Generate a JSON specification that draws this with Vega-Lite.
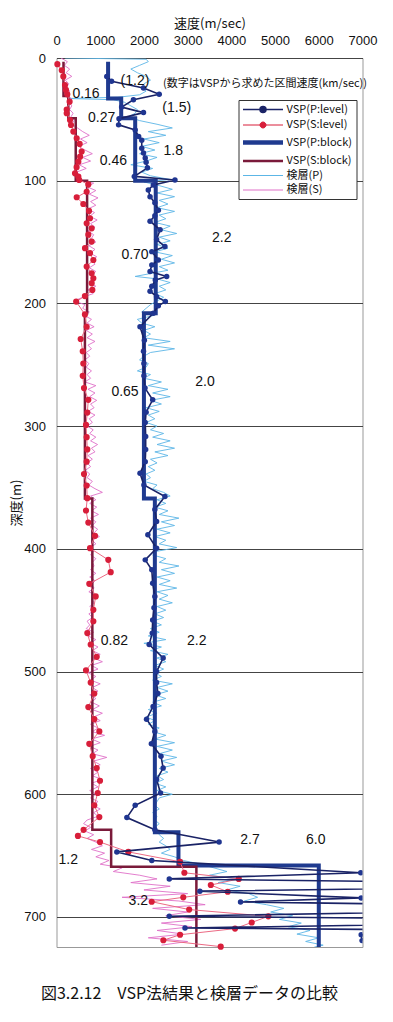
{
"$schema":"https://vega.github.io/schema/vega-lite/v6.json",
"width":306,"height":889,
"autosize":"none",
"padding":{"left":56.5,"top":58,"right":30.5,"bottom":75},
"background":"white",
"config":{"view":{"stroke":"#999","strokeWidth":1},"text":{"font":"Liberation Sans"}},
"title":{"text":"図3.2.12　VSP法結果と検層データの比較","orient":"bottom","anchor":"middle","dx":-20,"offset":31,"font":"Noto Sans CJK JP","fontSize":16,"fontWeight":"normal","color":"#111"},
"datasets":{
"pblock":[{"d":3,"v":1180},{"d":33,"v":1180},{"d":33,"v":1480},{"d":49,"v":1480},{"d":49,"v":1800},{"d":100,"v":1800},{"d":100,"v":2270},{"d":208,"v":2270},{"d":208,"v":2000},{"d":359,"v":2000},{"d":359,"v":2250},{"d":631,"v":2250},{"d":631,"v":2790},{"d":658,"v":2790},{"d":658,"v":6000},{"d":724.5,"v":6000}],
"sblock":[{"d":3,"v":160},{"d":31,"v":160},{"d":31,"v":270},{"d":49,"v":270},{"d":49,"v":440},{"d":100,"v":440},{"d":100,"v":700},{"d":208,"v":700},{"d":208,"v":650},{"d":359,"v":650},{"d":359,"v":820},{"d":629,"v":820},{"d":629,"v":1250},{"d":659,"v":1250},{"d":659,"v":3200},{"d":724.5,"v":3200}],
"plevel":[{"d":15,"v":1150},{"d":19,"v":1260},{"d":24.5,"v":1990},{"d":29.5,"v":2350},{"d":34,"v":1760},{"d":40,"v":1490},{"d":44.5,"v":1990},{"d":49.5,"v":1430},{"d":54.5,"v":1420},{"d":58.7,"v":1800},{"d":64,"v":1880},{"d":67,"v":1950},{"d":73.5,"v":1950},{"d":77.5,"v":1990},{"d":81.5,"v":2030},{"d":85,"v":2050},{"d":89.5,"v":2080},{"d":96.5,"v":1780},{"d":99.4,"v":2710},{"d":103.5,"v":2215},{"d":107.5,"v":2100},{"d":113,"v":2140},{"d":118,"v":2250},{"d":124,"v":2330},{"d":128.5,"v":2250},{"d":133,"v":2140},{"d":140,"v":2370},{"d":148,"v":2290},{"d":153.7,"v":2480},{"d":157.8,"v":2180},{"d":164.6,"v":2330},{"d":168.6,"v":2180},{"d":174,"v":2140},{"d":178,"v":2520},{"d":181,"v":2260},{"d":186,"v":2180},{"d":190,"v":2140},{"d":194.5,"v":2290},{"d":198.5,"v":2490},{"d":202,"v":2330},{"d":208,"v":2215},{"d":219,"v":1910},{"d":230,"v":2010},{"d":239,"v":1990},{"d":249,"v":2000},{"d":259,"v":2000},{"d":269,"v":2025},{"d":278.6,"v":2200},{"d":288.6,"v":2050},{"d":297,"v":2030},{"d":308.5,"v":2040},{"d":319,"v":2040},{"d":329,"v":2030},{"d":338.4,"v":1910},{"d":348,"v":2000},{"d":357.4,"v":2480},{"d":368,"v":2250},{"d":377.7,"v":2290},{"d":388.6,"v":2090},{"d":399.5,"v":2290},{"d":409,"v":2030},{"d":417,"v":2180},{"d":428,"v":2200},{"d":438.8,"v":2250},{"d":448,"v":2230},{"d":458,"v":2200},{"d":468.7,"v":2190},{"d":478,"v":2120},{"d":489,"v":2440},{"d":500,"v":2290},{"d":509,"v":2290},{"d":518,"v":2320},{"d":528.5,"v":2210},{"d":538.8,"v":2060},{"d":548.8,"v":2250},{"d":558.9,"v":2170},{"d":569,"v":2390},{"d":578.7,"v":2440},{"d":588,"v":2290},{"d":599,"v":2380},{"d":609,"v":1800},{"d":619,"v":1610},{"d":629,"v":2250},{"d":639,"v":3720},{"d":647,"v":1380},{"d":654,"v":2180},{"d":664,"v":6960},{"d":669,"v":2580},{"d":674,"v":14000},{"d":679,"v":3280},{"d":684.5,"v":6970},{"d":687.8,"v":4210},{"d":692.4,"v":14000},{"d":699.5,"v":2580},{"d":703,"v":14000},{"d":709,"v":2940},{"d":712,"v":14000},{"d":714.6,"v":6970},{"d":719.3,"v":6990}],
"slevel":[{"d":5,"v":20},{"d":10,"v":120},{"d":15,"v":156},{"d":22,"v":194},{"d":26,"v":217},{"d":29.6,"v":247},{"d":35.6,"v":300},{"d":42,"v":233},{"d":45,"v":233},{"d":50.5,"v":309},{"d":54.6,"v":332},{"d":60,"v":385},{"d":65.4,"v":462},{"d":70,"v":530},{"d":76.3,"v":576},{"d":80.4,"v":540},{"d":84.5,"v":500},{"d":89,"v":460},{"d":94,"v":423},{"d":96.7,"v":500},{"d":99.4,"v":520},{"d":103,"v":728},{"d":109,"v":690},{"d":113.5,"v":462},{"d":119,"v":613},{"d":124.6,"v":744},{"d":130.6,"v":767},{"d":134.7,"v":690},{"d":138.8,"v":805},{"d":144,"v":728},{"d":149.6,"v":805},{"d":155,"v":652},{"d":159,"v":767},{"d":164.6,"v":843},{"d":170,"v":690},{"d":175.4,"v":805},{"d":179.5,"v":843},{"d":183.5,"v":805},{"d":189,"v":820},{"d":194,"v":650},{"d":198.5,"v":450},{"d":209,"v":650},{"d":219,"v":690},{"d":229,"v":553},{"d":239,"v":600},{"d":249,"v":613},{"d":259,"v":600},{"d":269,"v":629},{"d":278.6,"v":728},{"d":289,"v":705},{"d":299,"v":675},{"d":309,"v":690},{"d":319,"v":705},{"d":329,"v":690},{"d":339,"v":629},{"d":348.4,"v":690},{"d":358.7,"v":705},{"d":368.8,"v":675},{"d":378.6,"v":728},{"d":389.4,"v":881},{"d":399.5,"v":767},{"d":409,"v":1185},{"d":419,"v":1240},{"d":428.5,"v":750},{"d":438.8,"v":897},{"d":449.7,"v":843},{"d":459,"v":843},{"d":468.7,"v":705},{"d":478,"v":782},{"d":488,"v":920},{"d":499,"v":675},{"d":509,"v":782},{"d":518,"v":865},{"d":529,"v":728},{"d":538.8,"v":865},{"d":548.8,"v":980},{"d":558.9,"v":750},{"d":569,"v":828},{"d":578.7,"v":920},{"d":589,"v":995},{"d":599,"v":943},{"d":609,"v":865},{"d":618.6,"v":980},{"d":629,"v":620},{"d":634,"v":490},{"d":639,"v":995},{"d":647,"v":1643},{"d":655,"v":2826},{"d":664,"v":2925},{"d":669,"v":4170},{"d":674,"v":3530},{"d":679.5,"v":3917},{"d":684,"v":2900},{"d":687.6,"v":2178},{"d":694,"v":3035},{"d":699.5,"v":4846},{"d":704.5,"v":4466},{"d":709.5,"v":4084},{"d":714.5,"v":2826},{"d":719,"v":2444},{"d":724.2,"v":3757}],
"plog":[{"d":0,"v":200},{"d":1,"v":2050},{"d":3,"v":2100},{"d":6,"v":1900},{"d":9,"v":1700},{"d":12,"v":1850},{"d":15,"v":2050},{"d":18,"v":2150},{"d":21,"v":2000},{"d":24,"v":1950},{"d":27,"v":2050},{"d":30,"v":1900},{"d":32,"v":1400},{"d":33,"v":250},{"d":34,"v":1300},{"d":36,"v":1550},{"d":39,"v":1700},{"d":42,"v":1850},{"d":45,"v":1800},{"d":48,"v":1650},{"d":51,"v":1900},{"d":54,"v":2300},{"d":57,"v":2650},{"d":60,"v":2100},{"d":63,"v":2500},{"d":66,"v":2000},{"d":69,"v":2350},{"d":72,"v":1950},{"d":75,"v":2250},{"d":78,"v":1900},{"d":81,"v":2300},{"d":84,"v":2050},{"d":87,"v":1700},{"d":90,"v":2200},{"d":93,"v":1950},{"d":96,"v":2150},{"d":99,"v":2600},{"d":101,"v":2000},{"d":104,"v":2350},{"d":107,"v":2650},{"d":110,"v":2300},{"d":113,"v":2700},{"d":116,"v":2350},{"d":119,"v":2550},{"d":122,"v":2300},{"d":125,"v":2700},{"d":128,"v":2350},{"d":131,"v":2500},{"d":134,"v":2250},{"d":137,"v":2600},{"d":140,"v":2400},{"d":143,"v":2750},{"d":146,"v":2350},{"d":149,"v":2600},{"d":152,"v":2300},{"d":155,"v":2550},{"d":158,"v":2250},{"d":161,"v":2650},{"d":164,"v":2400},{"d":167,"v":2700},{"d":170,"v":2350},{"d":173,"v":2550},{"d":176,"v":2100},{"d":178,"v":1800},{"d":180,"v":2300},{"d":183,"v":2600},{"d":186,"v":2350},{"d":189,"v":2500},{"d":192,"v":2250},{"d":195,"v":2450},{"d":198,"v":2300},{"d":201,"v":2150},{"d":204,"v":2050},{"d":207,"v":1950},{"d":210,"v":2200},{"d":213,"v":1850},{"d":216,"v":1950},{"d":219,"v":2250},{"d":222,"v":2000},{"d":225,"v":2150},{"d":228,"v":2000},{"d":231,"v":2600},{"d":234,"v":2100},{"d":237,"v":2700},{"d":240,"v":2150},{"d":243,"v":2000},{"d":246,"v":1900},{"d":249,"v":2100},{"d":252,"v":2050},{"d":255,"v":1850},{"d":258,"v":2150},{"d":261,"v":2000},{"d":264,"v":2400},{"d":267,"v":2100},{"d":270,"v":2550},{"d":273,"v":2200},{"d":276,"v":2600},{"d":279,"v":2150},{"d":282,"v":2400},{"d":285,"v":2050},{"d":288,"v":2350},{"d":291,"v":2100},{"d":294,"v":2250},{"d":297,"v":2050},{"d":300,"v":2300},{"d":303,"v":2150},{"d":306,"v":2450},{"d":309,"v":2200},{"d":312,"v":2600},{"d":315,"v":2300},{"d":318,"v":2700},{"d":321,"v":2250},{"d":324,"v":2550},{"d":327,"v":2150},{"d":330,"v":2300},{"d":333,"v":2100},{"d":336,"v":2250},{"d":339,"v":2050},{"d":342,"v":2150},{"d":345,"v":2000},{"d":348,"v":2300},{"d":351,"v":2200},{"d":354,"v":2450},{"d":357,"v":2600},{"d":360,"v":2300},{"d":363,"v":2500},{"d":366,"v":2250},{"d":369,"v":2550},{"d":372,"v":2350},{"d":375,"v":2800},{"d":378,"v":2400},{"d":381,"v":2700},{"d":384,"v":2300},{"d":387,"v":2600},{"d":390,"v":2250},{"d":393,"v":2500},{"d":396,"v":2350},{"d":399,"v":2750},{"d":402,"v":2300},{"d":405,"v":2200},{"d":408,"v":2500},{"d":411,"v":2350},{"d":414,"v":2800},{"d":417,"v":2400},{"d":420,"v":2700},{"d":423,"v":2300},{"d":426,"v":2600},{"d":429,"v":2350},{"d":432,"v":2750},{"d":435,"v":2300},{"d":438,"v":2550},{"d":441,"v":2350},{"d":444,"v":2650},{"d":447,"v":2300},{"d":450,"v":2500},{"d":453,"v":2250},{"d":456,"v":2450},{"d":459,"v":2200},{"d":462,"v":2400},{"d":465,"v":2150},{"d":468,"v":2350},{"d":471,"v":2100},{"d":474,"v":2500},{"d":477,"v":2000},{"d":480,"v":2400},{"d":483,"v":2150},{"d":486,"v":2550},{"d":489,"v":2300},{"d":492,"v":2500},{"d":495,"v":2250},{"d":498,"v":2450},{"d":501,"v":2250},{"d":504,"v":2400},{"d":507,"v":2200},{"d":510,"v":2650},{"d":513,"v":2300},{"d":516,"v":2550},{"d":519,"v":2250},{"d":522,"v":2500},{"d":525,"v":2200},{"d":528,"v":2400},{"d":531,"v":2100},{"d":534,"v":2300},{"d":537,"v":2050},{"d":540,"v":2250},{"d":543,"v":2100},{"d":546,"v":2350},{"d":549,"v":2200},{"d":552,"v":2500},{"d":555,"v":2250},{"d":558,"v":2700},{"d":561,"v":2300},{"d":564,"v":2650},{"d":567,"v":2350},{"d":570,"v":2750},{"d":573,"v":2400},{"d":576,"v":2700},{"d":579,"v":2350},{"d":582,"v":2550},{"d":585,"v":2300},{"d":588,"v":2450},{"d":591,"v":2250},{"d":594,"v":2500},{"d":597,"v":2300},{"d":600,"v":2650},{"d":603,"v":2350},{"d":606,"v":2300},{"d":609,"v":2250},{"d":612,"v":2350},{"d":615,"v":2200},{"d":618,"v":2300},{"d":621,"v":2250},{"d":624,"v":2350},{"d":627,"v":2250},{"d":630,"v":2300},{"d":633,"v":2350},{"d":636,"v":2450},{"d":639,"v":2350},{"d":642,"v":2500},{"d":645,"v":2600},{"d":648,"v":2400},{"d":651,"v":2700},{"d":654,"v":2900},{"d":657,"v":3300},{"d":660,"v":3600},{"d":663,"v":3900},{"d":666,"v":3500},{"d":669,"v":4100},{"d":672,"v":3700},{"d":675,"v":4200},{"d":678,"v":3900},{"d":681,"v":4400},{"d":684,"v":4600},{"d":687,"v":4300},{"d":690,"v":4800},{"d":693,"v":5200},{"d":696,"v":4900},{"d":699,"v":5400},{"d":702,"v":5100},{"d":705,"v":5600},{"d":708,"v":5300},{"d":711,"v":5800},{"d":714,"v":5500},{"d":717,"v":6000},{"d":720,"v":5700},{"d":723,"v":6100},{"d":724.5,"v":5900}],
"slog":[{"d":0,"v":100},{"d":3,"v":250},{"d":6,"v":180},{"d":9,"v":300},{"d":12,"v":220},{"d":15,"v":350},{"d":18,"v":200},{"d":21,"v":280},{"d":24,"v":230},{"d":27,"v":300},{"d":30,"v":260},{"d":33,"v":330},{"d":36,"v":280},{"d":39,"v":350},{"d":42,"v":300},{"d":45,"v":380},{"d":48,"v":330},{"d":51,"v":400},{"d":54,"v":350},{"d":57,"v":480},{"d":60,"v":600},{"d":63,"v":750},{"d":66,"v":550},{"d":69,"v":700},{"d":72,"v":500},{"d":75,"v":650},{"d":78,"v":820},{"d":81,"v":600},{"d":84,"v":780},{"d":87,"v":520},{"d":90,"v":680},{"d":93,"v":460},{"d":96,"v":550},{"d":99,"v":480},{"d":102,"v":850},{"d":105,"v":700},{"d":108,"v":900},{"d":111,"v":750},{"d":114,"v":950},{"d":117,"v":780},{"d":120,"v":900},{"d":123,"v":720},{"d":126,"v":870},{"d":129,"v":760},{"d":132,"v":930},{"d":135,"v":780},{"d":138,"v":880},{"d":141,"v":720},{"d":144,"v":850},{"d":147,"v":800},{"d":150,"v":900},{"d":153,"v":740},{"d":156,"v":880},{"d":159,"v":770},{"d":162,"v":920},{"d":165,"v":800},{"d":168,"v":880},{"d":171,"v":750},{"d":174,"v":900},{"d":177,"v":800},{"d":180,"v":860},{"d":183,"v":760},{"d":186,"v":900},{"d":189,"v":720},{"d":192,"v":840},{"d":195,"v":600},{"d":198,"v":400},{"d":201,"v":650},{"d":204,"v":600},{"d":207,"v":750},{"d":210,"v":650},{"d":213,"v":800},{"d":216,"v":700},{"d":219,"v":860},{"d":222,"v":680},{"d":225,"v":820},{"d":228,"v":700},{"d":231,"v":880},{"d":234,"v":720},{"d":237,"v":800},{"d":240,"v":680},{"d":243,"v":760},{"d":246,"v":650},{"d":249,"v":740},{"d":252,"v":680},{"d":255,"v":800},{"d":258,"v":700},{"d":261,"v":780},{"d":264,"v":650},{"d":267,"v":900},{"d":270,"v":720},{"d":273,"v":880},{"d":276,"v":760},{"d":279,"v":920},{"d":282,"v":780},{"d":285,"v":860},{"d":288,"v":720},{"d":291,"v":880},{"d":294,"v":750},{"d":297,"v":820},{"d":300,"v":700},{"d":303,"v":840},{"d":306,"v":760},{"d":309,"v":900},{"d":312,"v":780},{"d":315,"v":940},{"d":318,"v":800},{"d":321,"v":880},{"d":324,"v":720},{"d":327,"v":820},{"d":330,"v":700},{"d":333,"v":780},{"d":336,"v":660},{"d":339,"v":760},{"d":342,"v":700},{"d":345,"v":820},{"d":348,"v":740},{"d":351,"v":880},{"d":354,"v":1050},{"d":357,"v":780},{"d":360,"v":900},{"d":363,"v":760},{"d":366,"v":920},{"d":369,"v":800},{"d":372,"v":960},{"d":375,"v":780},{"d":378,"v":900},{"d":381,"v":820},{"d":384,"v":940},{"d":387,"v":860},{"d":390,"v":980},{"d":393,"v":820},{"d":396,"v":900},{"d":399,"v":760},{"d":402,"v":850},{"d":405,"v":780},{"d":408,"v":900},{"d":411,"v":820},{"d":414,"v":860},{"d":417,"v":780},{"d":420,"v":900},{"d":423,"v":760},{"d":426,"v":880},{"d":429,"v":800},{"d":432,"v":860},{"d":435,"v":740},{"d":438,"v":900},{"d":441,"v":800},{"d":444,"v":860},{"d":447,"v":760},{"d":450,"v":880},{"d":453,"v":740},{"d":456,"v":820},{"d":459,"v":700},{"d":462,"v":760},{"d":465,"v":680},{"d":468,"v":850},{"d":471,"v":720},{"d":474,"v":900},{"d":477,"v":780},{"d":480,"v":950},{"d":483,"v":820},{"d":486,"v":1000},{"d":489,"v":850},{"d":492,"v":1050},{"d":495,"v":800},{"d":498,"v":950},{"d":501,"v":720},{"d":504,"v":900},{"d":507,"v":780},{"d":510,"v":1000},{"d":513,"v":820},{"d":516,"v":950},{"d":519,"v":760},{"d":522,"v":900},{"d":525,"v":800},{"d":528,"v":980},{"d":531,"v":820},{"d":534,"v":1050},{"d":537,"v":850},{"d":540,"v":1000},{"d":543,"v":780},{"d":546,"v":950},{"d":549,"v":820},{"d":552,"v":1100},{"d":555,"v":800},{"d":558,"v":1000},{"d":561,"v":760},{"d":564,"v":950},{"d":567,"v":820},{"d":570,"v":1150},{"d":573,"v":850},{"d":576,"v":1000},{"d":579,"v":780},{"d":582,"v":950},{"d":585,"v":820},{"d":588,"v":1050},{"d":591,"v":800},{"d":594,"v":950},{"d":597,"v":760},{"d":600,"v":900},{"d":603,"v":780},{"d":606,"v":950},{"d":609,"v":820},{"d":612,"v":1000},{"d":615,"v":850},{"d":618,"v":950},{"d":621,"v":700},{"d":624,"v":620},{"d":627,"v":780},{"d":630,"v":650},{"d":633,"v":850},{"d":636,"v":700},{"d":639,"v":900},{"d":642,"v":1050},{"d":645,"v":800},{"d":648,"v":1100},{"d":651,"v":900},{"d":654,"v":1200},{"d":657,"v":1000},{"d":660,"v":1500},{"d":663,"v":1300},{"d":666,"v":1900},{"d":669,"v":2300},{"d":672,"v":1700},{"d":675,"v":2600},{"d":678,"v":2000},{"d":681,"v":3000},{"d":684,"v":1500},{"d":687,"v":2800},{"d":690,"v":3400},{"d":693,"v":2200},{"d":696,"v":3000},{"d":699,"v":2500},{"d":702,"v":3300},{"d":705,"v":2400},{"d":708,"v":3100},{"d":711,"v":2300},{"d":714,"v":2900},{"d":717,"v":2100},{"d":720,"v":3000},{"d":723,"v":2400}],
"labels":[{"d":18.7,"v":1796,"t":"(1.2)"},{"d":41,"v":2750,"t":"(1.5)"},{"d":29.6,"v":675,"t":"0.16"},{"d":49,"v":1034,"t":"0.27"},{"d":75.5,"v":2672,"t":"1.8"},{"d":84,"v":1300,"t":"0.46"},{"d":147,"v":3780,"t":"2.2"},{"d":160.5,"v":1796,"t":"0.70"},{"d":263.7,"v":3398,"t":"2.0"},{"d":272.6,"v":1567,"t":"0.65"},{"d":475,"v":1323,"t":"0.82"},{"d":475,"v":3208,"t":"2.2"},{"d":637.6,"v":4427,"t":"2.7"},{"d":637.6,"v":5930,"t":"6.0"},{"d":653.4,"v":270,"t":"1.2"},{"d":687.3,"v":1872,"t":"3.2"}],
"note":[{"d":21.2,"v":2437,"t":"(数字はVSPから求めた区間速度(km/sec))"}]
},
"encoding":{
"x":{"field":"v","type":"quantitative","scale":{"domain":[0,7000],"nice":false,"zero":false},
 "axis":{"orient":"top","title":"速度(m/sec)","format":"d","values":[0,1000,2000,3000,4000,5000,6000,7000],"labelOverlap":false,"labelFlush":false,"labelBound":false,"grid":false,"ticks":false,"domain":false,"labelFont":"Liberation Sans","labelFontSize":13,"labelColor":"#111","labelPadding":11,"titleFont":"Noto Sans CJK JP","titleFontSize":13,"titleFontWeight":"normal","titleColor":"#111","titlePadding":4}},
"y":{"field":"d","type":"quantitative","scale":{"domain":[0,724.5],"nice":false,"zero":false,"reverse":true},
 "axis":{"title":"深度(m)","format":"d","values":[0,100,200,300,400,500,600,700],"labelOverlap":false,"labelFlush":false,"grid":true,"gridColor":"#444","gridWidth":1,"ticks":false,"domain":false,"labelFont":"Liberation Sans","labelFontSize":13,"labelColor":"#111","labelPadding":11,"titleFont":"Noto Sans CJK JP","titleFontSize":13,"titleFontWeight":"normal","titleColor":"#111","titlePadding":0}}
},
"layer":[
{"data":{"name":"plog"},"mark":{"type":"line","strokeWidth":0.9,"clip":true},"encoding":{"order":{"value":null},"color":{"datum":"検層(P)","type":"nominal","scale":{"domain":["VSP(P:level)","VSP(S:level)","VSP(P:block)","VSP(S:block)","検層(P)","検層(S)"],"range":["#1a2366","#d81e3a","#1f3a8f","#7a1a3a","#5cb6e6","#e070c8"]},
 "legend":{"title":null,"orient":"none","legendX":182,"legendY":42,"padding":4,"strokeColor":"#333","fillColor":"white","labelFont":"Noto Sans CJK JP","labelFontSize":11,"labelColor":"#111","symbolSize":100,"labelOffset":33,"rowPadding":2.5,
  "encode":{"symbols":{"update":{
   "size":{"value":100},
   "shape":{"signal":"datum.value=='VSP(P:level)'||datum.value=='VSP(S:level)' ? 'M-1,0L7,0M3.6,0A0.6,0.6,0,1,1,2.4,0A0.6,0.6,0,1,1,3.6,0Z' : 'M-1,0L7,0'"},
   "strokeWidth":{"signal":"datum.value=='VSP(P:block)'?4.5:datum.value=='VSP(S:block)'?2.5:datum.value=='VSP(P:level)'?1.5:1"},
   "stroke":{"signal":"datum.value=='VSP(S:level)'?'#f08aa0':scale('color',datum.value)"},
   "fill":{"signal":"datum.value=='VSP(P:level)'?'#1f3590':datum.value=='VSP(S:level)'?'#d81e3a':'transparent'"},
   "opacity":{"value":1}}}}}}}},
{"data":{"name":"slog"},"mark":{"type":"line","strokeWidth":0.9,"clip":true},"encoding":{"order":{"value":null},"color":{"datum":"検層(S)","type":"nominal"}}},
{"data":{"name":"pblock"},"mark":{"type":"line","strokeWidth":4},"encoding":{"order":{"value":null},"color":{"datum":"VSP(P:block)","type":"nominal"}}},
{"data":{"name":"sblock"},"mark":{"type":"line","strokeWidth":2.5},"encoding":{"order":{"value":null},"color":{"datum":"VSP(S:block)","type":"nominal"}}},
{"data":{"name":"slevel"},"mark":{"type":"line","strokeWidth":1,"stroke":"#ec6a84"},"encoding":{"order":{"value":null}}},
{"data":{"name":"slevel"},"mark":{"type":"point","filled":true,"size":38,"opacity":1},"encoding":{"color":{"datum":"VSP(S:level)","type":"nominal"}}},
{"data":{"name":"plevel"},"mark":{"type":"line","strokeWidth":1.6,"clip":true},"encoding":{"order":{"value":null},"color":{"datum":"VSP(P:level)","type":"nominal"}}},
{"data":{"name":"plevel"},"mark":{"type":"point","filled":true,"size":30,"opacity":1,"clip":true,"color":"#1f3590"},"encoding":{}},
{"data":{"name":"labels"},"mark":{"type":"text","font":"Liberation Sans","fontSize":14,"color":"#111","align":"center","baseline":"middle"},"encoding":{"text":{"field":"t","type":"nominal"}}},
{"data":{"name":"note"},"mark":{"type":"text","font":"Noto Sans CJK JP","fontSize":11,"color":"#111","align":"left","baseline":"middle"},"encoding":{"text":{"field":"t","type":"nominal"}}}
]
}
